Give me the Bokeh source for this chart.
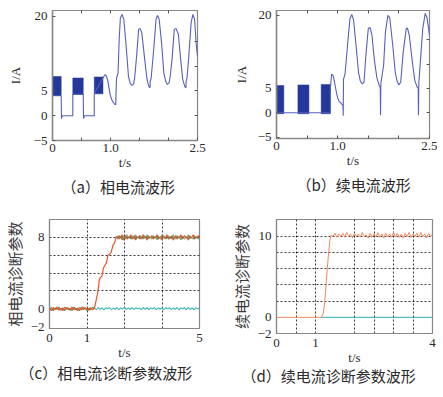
import numpy as np
from bokeh.plotting import figure
from bokeh.layouts import row, column
from bokeh.models import FixedTicker, LinearAxis, Range1d
from bokeh.embed import file_html
from bokeh.resources import INLINE

SERIF = "Liberation Serif"
CJK = "Noto Sans CJK SC"

# ---------------- data: (a) phase current ----------------
a_band_t0 = [0.00, 0.35, 0.72]
a_band_t1 = [0.15, 0.53, 0.87]
a_band_lo = [4.0, 4.3, 4.4]
a_band_hi = [7.9, 7.6, 7.8]
a_t = [0.15, 0.155, 0.17, 0.18, 0.35, 0.35, 0.53, 0.535, 0.55, 0.56, 0.72, 0.72,
       0.87, 0.89, 0.91, 0.935, 0.955, 0.975, 0.995, 1.015, 1.035, 1.06, 1.08, 1.09,
       1.10, 1.105, 1.13, 1.15, 1.17, 1.20, 1.23, 1.27, 1.31, 1.34, 1.37, 1.40, 1.42,
       1.45, 1.485, 1.51, 1.54, 1.59, 1.63, 1.66, 1.68, 1.685, 1.70, 1.745, 1.785,
       1.81, 1.84, 1.88, 1.92, 1.95, 1.98, 2.01, 2.03, 2.06, 2.10, 2.13, 2.17, 2.21,
       2.245, 2.28, 2.30, 2.305, 2.32, 2.35, 2.39, 2.42, 2.45, 2.48, 2.50]
a_i = [4.0, -0.6, -0.1, 0.0, 0.0, 4.3, 4.3, -0.6, -0.1, 0.0, 0.0, 4.4,
       7.6, 8.0, 8.3, 7.8, 6.9, 5.5, 4.2, 3.4, 2.9, 2.5, 2.2, 2.3,
       6.5, 7.6, 8.6, 15.4, 19.7, 20.4, 19.4, 14.0, 7.9, 6.5, 6.1, 6.4, 8.0,
       12.0, 17.4, 17.6, 16.7, 11.3, 7.3, 5.9, 5.6, 7.0, 7.5, 13.3, 19.4,
       20.2, 19.4, 14.7, 8.6, 7.0, 6.3, 6.6, 8.0, 11.3, 17.4, 17.6, 16.4, 11.3,
       7.3, 5.9, 5.6, 7.0, 7.6, 12.0, 18.7, 20.4, 19.4, 14.0, 12.0]

# ---------------- data: (b) freewheel current ----------------
b_band_t0 = [0.01, 0.35, 0.73]
b_band_t1 = [0.12, 0.53, 0.88]
b_band_lo = [-0.2, -0.2, -0.2]
b_band_hi = [5.6, 5.7, 5.8]
b_t = [0.0, 0.88, 0.88, 0.885, 0.90, 0.915, 0.93, 0.955, 0.98, 1.00, 1.02, 1.05, 1.07,
       1.085, 1.09, 1.095, 1.12, 1.16, 1.20, 1.23, 1.26, 1.30, 1.34, 1.37, 1.40,
       1.43, 1.46, 1.50, 1.53, 1.56, 1.60, 1.64, 1.68, 1.695, 1.70, 1.705, 1.75,
       1.78, 1.82, 1.85, 1.90, 1.94, 1.97, 2.00, 2.03, 2.07, 2.12, 2.14, 2.17, 2.22,
       2.26, 2.30, 2.315, 2.32, 2.325, 2.35, 2.39, 2.43, 2.46, 2.50]
b_i = [0.0, 0.0, 5.5, 5.6, 7.9, 7.8, 7.4, 5.8, 4.1, 3.0, 2.4, 2.0, 1.7,
       1.5, -0.6, 6.9, 7.9, 13.8, 19.3, 20.2, 19.0, 13.8, 8.3, 6.5, 5.9,
       6.3, 11.7, 17.3, 17.5, 15.9, 10.7, 7.2, 5.5, 5.3, -0.5, 6.0, 9.7,
       16.6, 20.0, 19.5, 13.8, 8.3, 6.5, 5.7, 6.3, 12.4, 17.3, 17.4, 15.9, 10.4,
       6.6, 5.2, 5.1, -0.5, 6.0, 10.4, 17.3, 20.4, 19.5, 15.9]

# ---------------- data: (c) phase-current diagnostic parameter ----------------
c_pre_red = [0.1, -0.2, 0.15, -0.1, 0.2, -0.15, 0.05, -0.2, 0.18, -0.05, 0.12, -0.18,
             0.2, -0.1, 0.08, -0.2, 0.15, -0.12, 0.2, -0.05, 0.1, -0.18, 0.12, -0.1, 0.1]
c_pre_green = [-0.1, 0.15, -0.2, 0.1, -0.05, 0.2, -0.15, 0.1, -0.2, 0.15, -0.1, 0.05,
               -0.18, 0.2, -0.12, 0.1, -0.2, 0.18, -0.08, 0.15, -0.2, 0.1, -0.1, 0.2, 0.0]
c_rise_t = [1.20, 1.24, 1.29, 1.33, 1.36, 1.40, 1.44, 1.47, 1.52, 1.56, 1.60, 1.64, 1.70, 1.73, 1.78]
c_rise_v = [0.1, 0.9, 1.9, 3.3, 3.5, 3.7, 4.6, 4.8, 5.2, 6.0, 6.1, 6.3, 7.2, 7.3, 8.1]
c_post_red = [8.1, 7.8, 8.2, 7.9, 8.3, 7.7, 8.0, 8.2, 7.8, 8.1, 7.9, 8.3, 7.8, 8.0, 8.2,
              7.7, 8.1, 7.9, 8.2, 7.8, 8.0, 8.3, 7.9, 8.1, 7.7, 8.2, 7.9, 8.0, 8.2, 7.8,
              8.1, 7.9, 8.3, 7.8, 8.0, 8.1, 7.7, 8.2, 7.9, 8.0, 8.3, 7.8, 8.1, 7.9, 8.2,
              7.7, 8.0, 8.2, 7.8, 8.1, 7.9, 8.3, 7.8, 8.0, 8.2, 7.9, 8.1, 7.7, 8.2, 7.9,
              8.0, 8.3, 7.8, 8.1, 7.9, 8.2, 7.9]
c_post_green = [7.9, 8.2, 7.8, 8.1, 7.7, 8.2, 8.0, 7.8, 8.3, 7.9, 8.1, 7.8, 8.2, 7.9, 7.8,
                8.3, 7.9, 8.1, 7.8, 8.2, 7.9, 7.8, 8.2, 7.9, 8.3, 7.8, 8.1, 7.9, 7.8, 8.2,
                7.9, 8.1, 7.7, 8.2, 7.9, 7.8, 8.3, 7.9, 8.1, 7.8, 7.9, 8.2, 7.8, 8.1, 7.8,
                8.3, 7.9, 7.8, 8.2, 7.9, 8.1, 7.7, 8.2, 7.9, 7.8, 8.1, 7.9, 8.3, 7.8, 8.1,
                7.9, 7.8, 8.2, 7.9, 8.1, 7.8, 8.0]
c_cyan = [0.05, -0.1, 0.15, -0.05, 0.1, -0.12, 0.12, 0.0, 0.15, -0.1, 0.08, -0.05, 0.15,
          -0.1, 0.1, 0.0, 0.18, -0.08, 0.1, -0.05, 0.15, -0.1, 0.12, 0.0, 0.1, -0.1, 0.15,
          -0.05, 0.12, -0.08, 0.1, 0.0, 0.15, -0.1, 0.12, -0.05, 0.1, -0.1, 0.15, 0.0,
          0.12, -0.08, 0.1, -0.05, 0.15, -0.1, 0.1, 0.0, 0.12, -0.08, 0.15, -0.05, 0.1,
          -0.1, 0.12, 0.0, 0.1]

# ---------------- data: (d) freewheel diagnostic parameter ----------------
d_rise_t = [0.0, 1.15, 1.20, 1.24, 1.28, 1.32, 1.37, 1.40]
d_rise_v = [0.0, 0.0, 0.5, 2.1, 4.6, 7.1, 9.6, 10.2]
d_ripple = [10.0, 10.4, 9.9, 10.3, 10.0, 10.4, 9.9, 10.5, 10.0, 10.3, 9.8, 10.4, 10.0,
            10.3, 9.9, 10.5, 10.0, 10.2, 9.8, 10.4, 9.9, 10.3, 10.0, 10.5, 9.9, 10.3,
            9.8, 10.4, 10.0, 10.3, 9.9, 10.5, 10.0, 10.4, 9.9, 10.3, 9.8, 10.4, 10.0,
            10.5, 9.9, 10.3, 10.0, 10.4, 9.9, 10.5, 10.0, 10.3, 9.8, 10.4, 10.0, 10.3]
d_cyan_t = [1.15, 4.0]
d_cyan_v = [0.0, 0.0]

TEXT = "#2a2a2a"
FRAME = "#8a8684"
WAVE = "#5660bd"
BAND = "#23389a"


def make_fig(fw, fh, xr, yr, left, right, top, bottom, title, offset, standoff):
    p = figure(frame_width=fw, frame_height=fh, x_range=Range1d(*xr), y_range=Range1d(*yr),
               output_backend="svg", toolbar_location=None,
               min_border_left=left, min_border_right=right,
               min_border_top=top, min_border_bottom=bottom,
               title=title, title_location="below")
    p.title.align = "left"
    p.title.text_font = CJK
    p.title.text_font_size = "15px"
    p.title.text_font_style = "normal"
    p.title.text_color = TEXT
    p.title.offset = offset
    p.title.standoff = standoff
    p.background_fill_color = "white"
    p.border_fill_color = "white"
    p.outline_line_color = FRAME
    p.outline_line_width = 1.2
    for ax in (p.xaxis[0], p.yaxis[0]):
        ax.axis_line_color = FRAME
        ax.axis_line_width = 1.5
        ax.major_tick_line_color = "#555"
        ax.major_tick_in = 3
        ax.major_tick_out = 0
        ax.minor_tick_line_color = None
        ax.major_label_text_font = SERIF
        ax.major_label_text_font_size = "13px"
        ax.major_label_text_color = TEXT
        ax.axis_label_text_color = TEXT
        ax.axis_label_text_font_style = "normal"
    p.xaxis.major_label_standoff = 3
    p.xaxis.axis_label_standoff = 0
    p.xaxis.axis_label = "t/s"
    p.xaxis.axis_label_text_font = SERIF
    p.xaxis.axis_label_text_font_size = "13px"
    p.yaxis.major_label_standoff = 5
    p.xgrid.grid_line_color = None
    p.ygrid.grid_line_color = None
    return p


def add_side_ticks(p, xticks, yticks):
    top = LinearAxis(ticker=FixedTicker(ticks=xticks),
                     major_label_overrides={t: "" for t in xticks})
    right = LinearAxis(ticker=FixedTicker(ticks=yticks),
                       major_label_overrides={t: "" for t in yticks})
    for ax in (top, right):
        ax.axis_line_color = None
        ax.major_tick_line_color = "#555"
        ax.major_tick_in = 3
        ax.major_tick_out = 0
        ax.minor_tick_line_color = None
        ax.major_label_standoff = 0
    p.add_layout(top, "above")
    p.add_layout(right, "right")


def wave_panel(fw, fh, yr, left, right, top, bottom, title, offset, standoff,
               t0, t1, lo, hi, tt, vv, label_standoff):
    p = make_fig(fw, fh, (0, 2.5), yr, left, right, top, bottom, title, offset, standoff)
    p.quad(left=t0, right=t1, bottom=lo, top=hi, fill_color=BAND, line_color=BAND,
           line_width=0.5)
    p.line(tt, vv, line_color=WAVE, line_width=1.1)
    p.xaxis.ticker = FixedTicker(ticks=[0, 0.5, 1.0, 1.5, 2.0, 2.5])
    p.xaxis.major_label_overrides = {0: "0", 0.5: "", 1.0: "1.0", 1.5: "", 2.0: "", 2.5: "2.5"}
    p.yaxis.ticker = FixedTicker(ticks=[-5, 0, 5, 20])
    p.yaxis.major_label_overrides = {-5: "\u22125", 0: "0", 5: "5", 20: "20"}
    p.yaxis.axis_label = "I/A"
    p.yaxis.axis_label_text_font = SERIF
    p.yaxis.axis_label_text_font_size = "13px"
    p.yaxis.axis_label_standoff = label_standoff
    add_side_ticks(p, [0.5, 1.0, 1.5, 2.0], [0, 5, 10, 15])
    return p


pa = wave_panel(145, 130, (-5, 21.2), 52, 25, 10, 60, "（a）相电流波形", 9, 2,
                a_band_t0, a_band_t1, a_band_lo, a_band_hi, a_t, a_i, 8)
pb = wave_panel(153, 128, (-5.3, 21.0), 54, 8, 10, 62, "（b）续电流波形", 20, 2,
                b_band_t0, b_band_t1, b_band_lo, b_band_hi, b_t, b_i, 6)


def diag_grid(p):
    p.xgrid.grid_line_color = "#222"
    p.ygrid.grid_line_color = "#222"
    for g in (p.xgrid[0], p.ygrid[0]):
        g.grid_line_dash = "2 2"
        g.grid_line_width = 1
        g.grid_line_alpha = 0.9
    for ax in (p.xaxis[0], p.yaxis[0]):
        ax.major_tick_in = 0
        ax.axis_line_width = 1.2
    p.xaxis.major_label_standoff = 5
    p.yaxis.axis_label_text_font = CJK
    p.yaxis.axis_label_text_font_size = "15px"
    p.yaxis.axis_label_text_color = "#3a3a3a"


# (c)
pc = make_fig(150, 109, (0, 4), (-2.2, 10), 48, 24, 19, 61, "（c）相电流诊断参数波形", -30, -6)
diag_grid(pc)
pc.xaxis.ticker = FixedTicker(ticks=[0, 1, 4])
pc.xaxis.major_label_overrides = {0: "0", 1: "1", 4: "5"}
pc.xgrid.ticker = FixedTicker(ticks=[1, 2, 3])
pc.yaxis.ticker = FixedTicker(ticks=[-2, 0, 8])
pc.yaxis.major_label_overrides = {-2: "\u22122", 0: "0", 8: "8"}
pc.ygrid.ticker = FixedTicker(ticks=[2, 4, 6, 8])
pc.yaxis.axis_label = "相电流诊断参数"
pc.yaxis.axis_label_standoff = 3

c_pre_t = np.linspace(0, 1.2, len(c_pre_red))
c_post_t = np.linspace(1.8, 4.0, len(c_post_red))
c_cyan_t = np.linspace(1.2, 4.0, len(c_cyan))
pc.line(c_cyan_t, c_cyan, line_color="#3fb8b0", line_width=1.1)
pc.line(c_pre_t, c_pre_green, line_color="#4f8a55", line_width=1.1)
pc.line(list(c_pre_t) + c_rise_t + list(c_post_t), c_pre_red + c_rise_v + c_post_red,
        line_color="#e8552c", line_width=1.2)
pc.line(c_post_t, c_post_green, line_color="#5f8a55", line_width=1, line_alpha=0.8)

# (d)
pd_ = make_fig(156, 114, (0, 4), (-2, 12.1), 53, 6, 16, 59, "（d）续电流诊断参数波形", -35, -9)
diag_grid(pd_)
pd_.xaxis.ticker = FixedTicker(ticks=[0, 1, 4])
pd_.xaxis.major_label_overrides = {0: "0", 1: "1", 4: "4"}
pd_.xgrid.ticker = FixedTicker(ticks=[0.5, 1, 2, 2.5, 3, 3.5])
pd_.yaxis.ticker = FixedTicker(ticks=[-2, 0, 10])
pd_.yaxis.major_label_overrides = {-2: "\u22122", 0: "0", 10: "10"}
pd_.ygrid.ticker = FixedTicker(ticks=[2, 4, 6, 8, 10])
pd_.yaxis.axis_label = "续电流诊断参数"
pd_.yaxis.axis_label_standoff = 3

d_rip_t = np.linspace(1.45, 4.0, len(d_ripple))
pd_.line(d_cyan_t, d_cyan_v, line_color="#2fb0b0", line_width=1)
pd_.line(d_rise_t + list(d_rip_t), d_rise_v + d_ripple, line_color="#f08862", line_width=1)

layout = column(row(pa, pb), row(pc, pd_))

open("out.html", "w").write(file_html(layout, INLINE))
